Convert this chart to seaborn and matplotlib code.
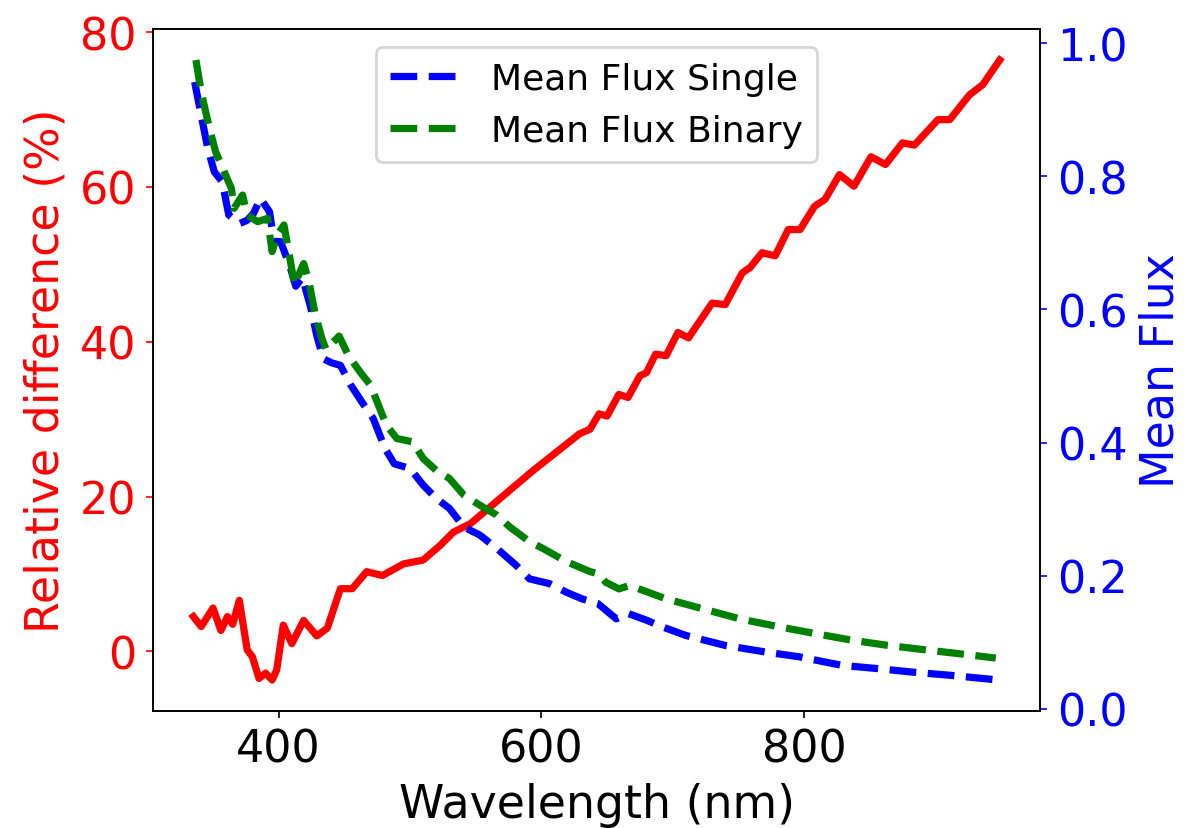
import pandas as pd
import seaborn as sns
import matplotlib
matplotlib.use("Agg")
import matplotlib.pyplot as plt

# relative difference between single and binary spectra (%)
diff_wl = [335, 341, 350, 356, 361, 365, 370, 376, 380, 385, 390, 395, 398.5,
           403.5, 410, 419, 429, 437, 447, 456, 467, 479, 495, 510, 523, 533,
           546, 571, 594, 629, 637, 644, 650, 659, 666, 675, 680, 687, 695, 704,
           712, 730, 740, 753, 759, 768, 778, 788, 797, 808, 816, 827, 838, 851,
           862, 875, 884, 902, 911, 926, 936, 949]
diff_pct = [4.5, 3.2, 5.6, 2.7, 4.5, 3.5, 6.6, 0.2, -0.7, -3.5, -2.8, -3.7, -2.4,
            3.4, 1.0, 4.0, 2.0, 3.0, 8.1, 8.1, 10.3, 9.8, 11.3, 11.8, 13.7, 15.4,
            16.5, 20.1, 23.4, 28.1, 28.7, 30.7, 30.4, 33.2, 32.8, 35.6, 36.0, 38.4,
            38.2, 41.2, 40.5, 45.0, 44.8, 48.9, 49.6, 51.5, 51.1, 54.5, 54.5, 57.5,
            58.4, 61.6, 60.1, 63.9, 62.9, 65.7, 65.4, 68.7, 68.7, 71.9, 73.2, 76.4]

# mean flux, single stars
single_wl = [336, 341, 346, 351, 357, 362, 370, 376, 381, 386, 393, 396.5, 401.5,
             409, 413, 418, 424, 429, 434, 440, 447, 455, 465, 472, 477, 481, 488,
             500, 510, 520, 530, 541, 553, 566, 581, 591, 606, 619, 631, 643, 657,
             666, 680, 692, 710, 740, 771, 796, 829, 857, 882, 912, 948]
single_flux = [0.942, 0.892, 0.842, 0.807, 0.792, 0.742, 0.729, 0.734, 0.745,
               0.767, 0.747, 0.702, 0.702, 0.662, 0.635, 0.648, 0.606, 0.561,
               0.526, 0.520, 0.516, 0.486, 0.456, 0.436, 0.411, 0.391, 0.368,
               0.361, 0.336, 0.316, 0.301, 0.273, 0.261, 0.241, 0.215, 0.195,
               0.188, 0.175, 0.165, 0.158, 0.135, 0.143, 0.133, 0.123, 0.110,
               0.095, 0.085, 0.078, 0.065, 0.060, 0.055, 0.050, 0.043]

# mean flux, binaries
binary_wl = [337, 341, 345, 348, 352, 358.5, 364, 366, 372.5, 376, 384, 391.5,
             395, 399, 404, 409, 412, 419, 423, 428, 433, 436, 446, 453, 462, 470,
             476, 482, 490, 502, 510, 520, 530, 541, 553, 566, 576, 591, 601, 619,
             637, 643, 649, 659, 667, 677, 695, 723, 751, 781, 808, 836, 864, 894,
             925, 946]
binary_flux = [0.975, 0.927, 0.892, 0.867, 0.837, 0.807, 0.782, 0.752, 0.772,
               0.742, 0.732, 0.737, 0.687, 0.712, 0.727, 0.672, 0.637, 0.669,
               0.642, 0.591, 0.556, 0.540, 0.560, 0.531, 0.506, 0.486, 0.456,
               0.426, 0.406, 0.401, 0.376, 0.358, 0.346, 0.321, 0.306, 0.291,
               0.273, 0.251, 0.241, 0.221, 0.206, 0.203, 0.190, 0.180, 0.185,
               0.178, 0.165, 0.150, 0.135, 0.123, 0.113, 0.103, 0.095, 0.088,
               0.081, 0.076]

diff_df = pd.DataFrame({"wl": diff_wl, "diff": diff_pct})
single_df = pd.DataFrame({"wl": single_wl, "flux": single_flux})
binary_df = pd.DataFrame({"wl": binary_wl, "flux": binary_flux})

fig = plt.figure(figsize=(6, 4.145), dpi=200)
ax1 = fig.add_axes([0.1275, 0.1411, 0.7392, 0.8227])
ax2 = ax1.twinx()

lw = 2.6
sns.lineplot(data=diff_df, x="wl", y="diff", ax=ax1, color="red", lw=lw)
sns.lineplot(data=single_df, x="wl", y="flux", ax=ax2, color="blue", lw=lw,
             ls="--", label="Mean Flux Single")
sns.lineplot(data=binary_df, x="wl", y="flux", ax=ax2, color="green", lw=lw,
             ls="--", label="Mean Flux Binary")

ax1.set_xticks([400, 600, 800])
ax1.set_yticks([0, 20, 40, 60, 80])
ax2.set_yticks([0.0, 0.2, 0.4, 0.6, 0.8, 1.0])

ax1.set_xlabel("Wavelength (nm)", fontsize=16.5)
ax1.set_ylabel("Relative difference (%)", fontsize=16.5, color="red")
ax2.set_ylabel("Mean Flux", fontsize=16.5, color="blue")

ax1.tick_params(axis="x", labelsize=16, length=2.5, width=0.6)
ax1.tick_params(axis="y", labelsize=16, colors="red", length=2.5, width=0.6)
ax2.tick_params(axis="y", labelsize=16, colors="blue", length=2.5, width=0.6)
for ax in (ax1, ax2):
    for sp in ax.spines.values():
        sp.set_linewidth(0.6)

ax2.legend(loc="upper center", fontsize=13)

fig.savefig("out.png", dpi=200)
